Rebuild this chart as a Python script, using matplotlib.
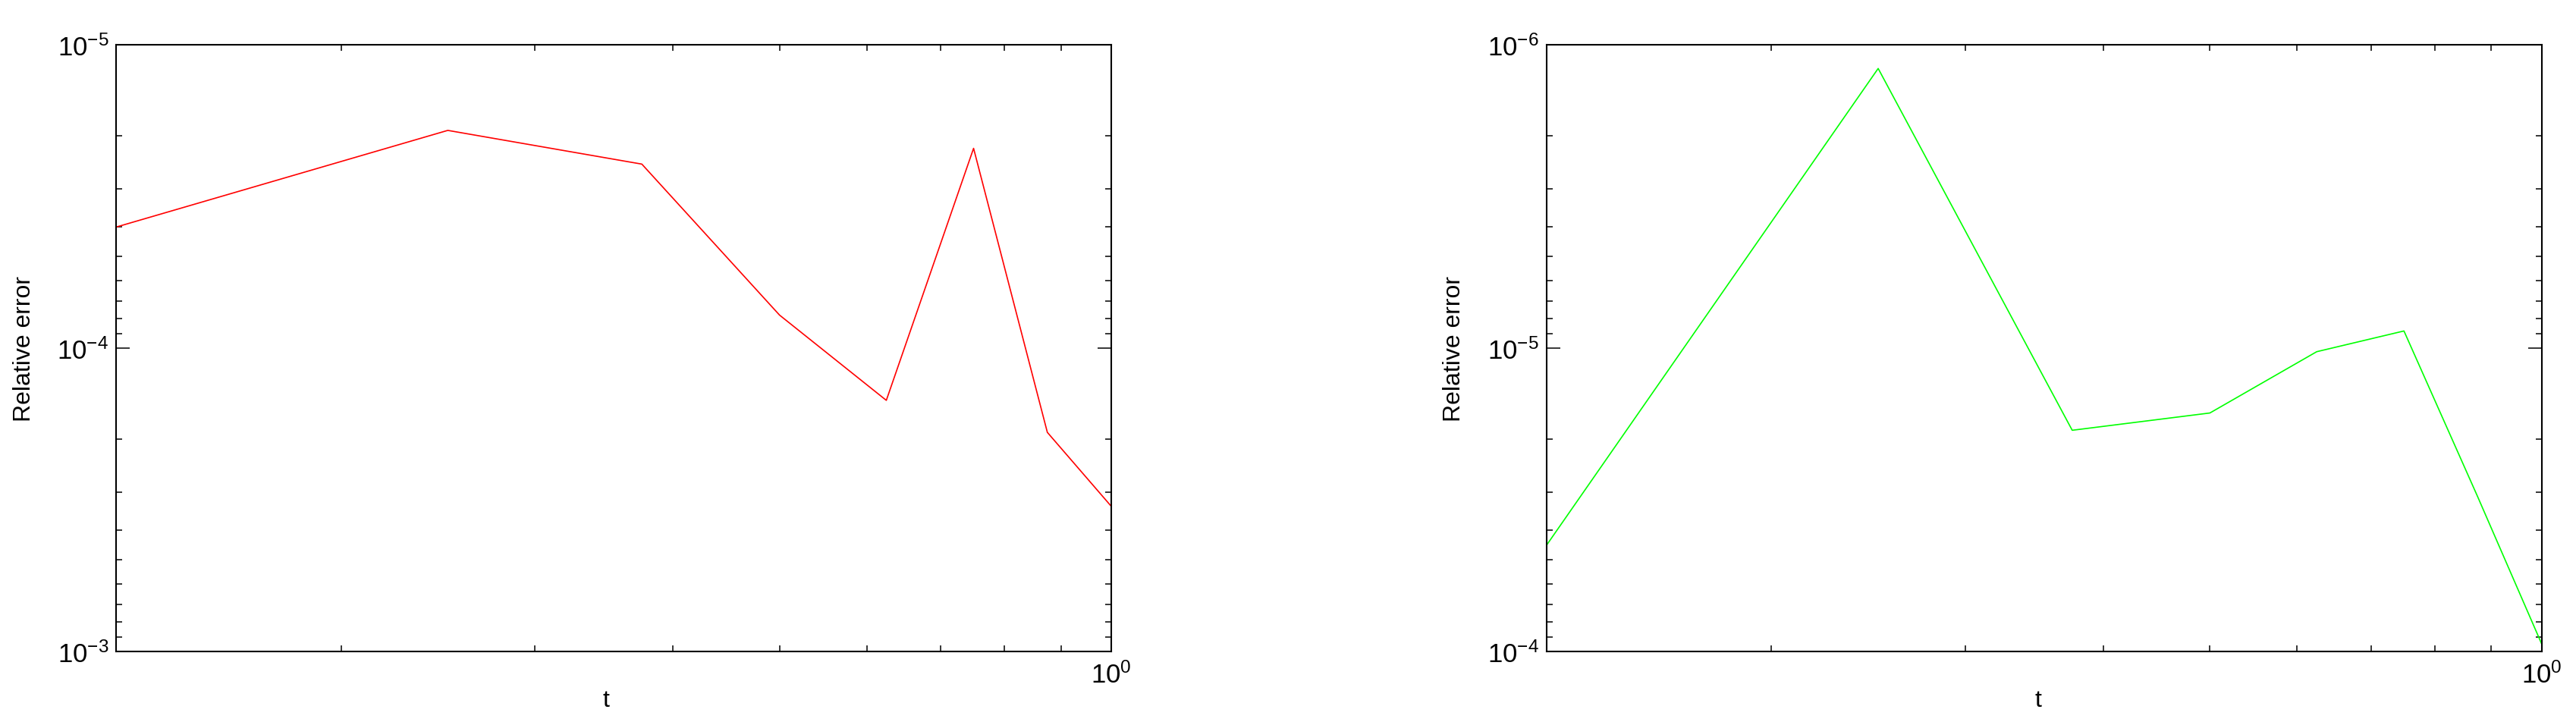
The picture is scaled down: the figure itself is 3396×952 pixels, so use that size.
import numpy as np
import matplotlib
matplotlib.use("Agg")
import matplotlib.pyplot as plt
from matplotlib.ticker import LogLocator, NullFormatter, LogFormatterSciNotation

plt.rcParams["font.family"] = ["Liberation Sans", "DejaVu Sans"]

# time samples (t = k/8) and relative errors
t = [0.125, 0.25, 0.375, 0.5, 0.625, 0.75, 0.875, 1.0]
err_red = [4.0e-5, 1.92e-5, 2.48e-5, 7.8e-5, 1.49e-4, 2.2e-5, 1.9e-4, 3.33e-4]
err_green = [4.48e-5, 1.2e-6, 1.87e-5, 1.64e-5, 1.03e-5, 8.8e-6, 3.1e-5, 9.46e-5]

ylims = [(1e-3, 1e-5), (1e-4, 1e-6)]
colors = ["#ff0000", "#00ff00"]
series = [err_red, err_green]

fig = plt.figure(figsize=(33.96, 9.53), dpi=100)
lefts = [153 / 3396, 2038.7 / 3396]
xlab_x = [0.492, 0.494]

for i in range(2):
    ax = fig.add_axes([lefts[i], 0.098, 1312 / 3396, 800 / 953])
    ax.plot(t, series[i], color=colors[i], linewidth=1.2)
    ax.set_xscale("log")
    ax.set_yscale("log")
    ax.set_xlim(0.125, 1.0)
    ax.set_ylim(*ylims[i])

    ax.xaxis.set_major_locator(LogLocator(base=10, numticks=10))
    ax.xaxis.set_minor_locator(LogLocator(base=10, subs=np.arange(2, 10), numticks=10))
    ax.yaxis.set_major_locator(LogLocator(base=10, numticks=10))
    ax.yaxis.set_minor_locator(LogLocator(base=10, subs=np.arange(2, 10), numticks=10))
    ax.xaxis.set_major_formatter(LogFormatterSciNotation())
    ax.yaxis.set_major_formatter(LogFormatterSciNotation())
    ax.xaxis.set_minor_formatter(NullFormatter())
    ax.yaxis.set_minor_formatter(NullFormatter())

    ax.tick_params(which="both", direction="in", top=True, right=True,
                   width=1.1, labelsize=25, color="black")
    ax.tick_params(which="major", length=13)
    ax.tick_params(which="minor", length=6)
    ax.tick_params(axis="y", pad=7)
    ax.tick_params(axis="x", pad=10)
    for sp in ax.spines.values():
        sp.set_linewidth(1.5)

    ax.set_ylabel("Relative error", fontsize=23)
    ax.yaxis.set_label_coords(-0.081, 0.5)
    ax.set_xlabel("t", fontsize=23)
    ax.xaxis.set_label_coords(xlab_x[i], -0.062)

fig.savefig("out.png", dpi=100)
